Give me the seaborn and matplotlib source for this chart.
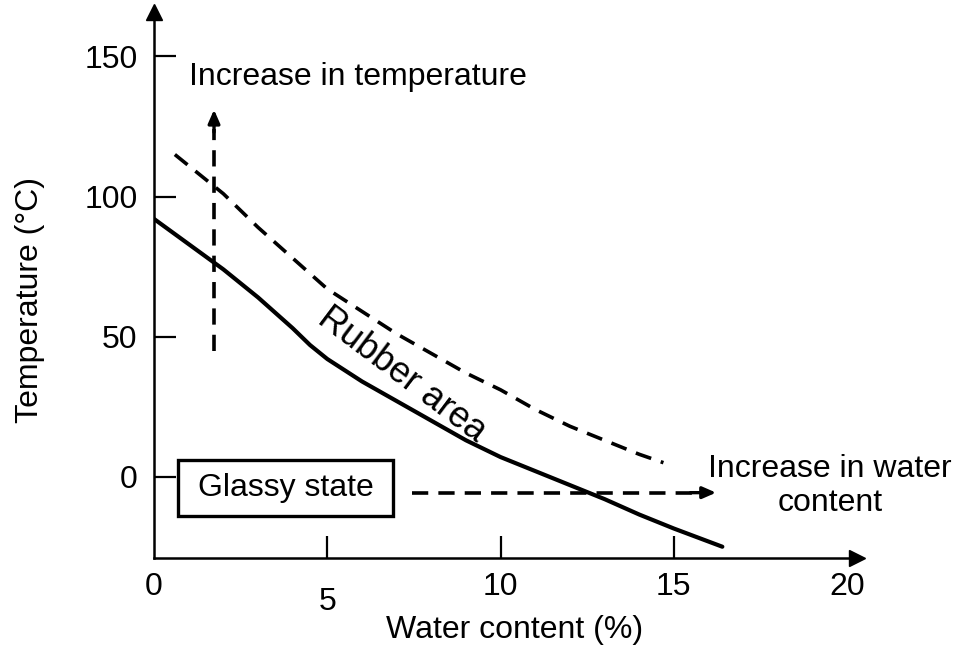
import matplotlib
matplotlib.use("Agg")
import matplotlib.pyplot as plt
import seaborn as sns
import pandas as pd
from matplotlib.patches import Rectangle
from matplotlib.transforms import ScaledTranslation

# glass transition line (solid) and upper boundary of rubber area (dashed)
water_solid = [0, 1, 2, 3, 4, 4.5, 5, 5.5, 6, 7, 8, 9, 10, 11, 12, 13, 14, 15, 16.4]
temp_solid = [92, 83, 74, 64, 53, 47, 42, 38, 34, 27, 20, 13, 7, 2, -3, -8, -13.5, -18.5, -25]

water_dash = [0.6, 2, 3, 4, 5, 6, 7, 8, 9, 10, 11, 12, 13, 14, 14.7]
temp_dash = [115, 101, 89, 78, 67, 59, 51, 44, 37, 31, 24, 18, 13, 8, 5]

x_ticks = [0, 5, 10, 15, 20]
y_ticks = [0, 50, 100, 150]

sns.set_style("white")
plt.rcParams["font.family"] = ["Liberation Sans", "DejaVu Sans"]
plt.rcParams["text.color"] = "black"
plt.rcParams["axes.labelcolor"] = "black"

FS = 23
DASH = (0, (4.5, 2.8))

fig = plt.figure(figsize=(9.57, 6.48), dpi=100)
ax = fig.add_axes([0.161, 0.139, 0.735, 0.843])

solid = pd.DataFrame({"w": water_solid, "t": temp_solid})
dash = pd.DataFrame({"w": water_dash, "t": temp_dash})
sns.lineplot(data=solid, x="w", y="t", color="black", linewidth=3, ax=ax, sort=False)
sns.lineplot(data=dash, x="w", y="t", color="black", linewidth=2.6, ax=ax, sort=False,
             linestyle=DASH)

ax.set_xlim(0, 20.3)
ax.set_ylim(-29, 166)

# axes with arrowheads
for s in ["top", "right"]:
    ax.spines[s].set_visible(False)
for s in ["left", "bottom"]:
    ax.spines[s].set_linewidth(1.8)
    ax.spines[s].set_color("black")
ax.plot(1, 0, ">k", markersize=11, transform=ax.transAxes, clip_on=False)
ax.plot(0, 1, "^k", markersize=11, transform=ax.transAxes, clip_on=False)

ax.set_xticks(x_ticks)
ax.set_xticklabels([str(v) for v in x_ticks])
ax.set_yticks(y_ticks)
ax.set_yticklabels([str(v) for v in y_ticks])
ax.tick_params(axis="both", direction="in", length=16, width=1.6, colors="black",
               labelsize=FS, bottom=True, left=True)
ax.tick_params(axis="x", pad=10)
ax.tick_params(axis="y", pad=12)
ticks = ax.xaxis.get_major_ticks()
ticks[-1].tick1line.set_visible(False)
ticks[0].tick1line.set_visible(False)
lbl5 = ax.get_xticklabels()[1]
lbl5.set_transform(lbl5.get_transform() + ScaledTranslation(0, -15 / 100, fig.dpi_scale_trans))

ax.set_xlabel("Water content (%)", fontsize=FS)
ax.set_ylabel("Temperature (°C)", fontsize=FS)
ax.xaxis.label.set_va("center")
ax.yaxis.label.set_va("center")
ax.xaxis.set_label_coords(0.513, -0.132)
ax.yaxis.set_label_coords(-0.176, 0.4725)

# arrows
ax.plot([1.73, 1.73], [45, 124], color="black", linewidth=2.6, linestyle=DASH)
ax.annotate("", xy=(1.73, 132), xytext=(1.73, 122),
            arrowprops=dict(arrowstyle="-|>,head_length=0.8,head_width=0.35",
                            color="black", lw=2.4))
ax.plot([7.45, 15.6], [-5.7, -5.7], color="black", linewidth=2.6, linestyle=DASH)
ax.annotate("", xy=(16.3, -5.7), xytext=(15.4, -5.7),
            arrowprops=dict(arrowstyle="-|>,head_length=0.8,head_width=0.35",
                            color="black", lw=2.4))

ax.text(1.0, 142.5, "Increase in temperature", fontsize=FS, va="center", ha="left")
ax.text(19.5, -3.3, "Increase in water\ncontent", fontsize=FS, va="center", ha="center",
        linespacing=1.15)
ax.text(7.15, 36.5, "Rubber area", fontsize=26, rotation=-37, va="center", ha="center",
        rotation_mode="anchor")

ax.add_patch(Rectangle((0.7, -14), 6.2, 20, facecolor="white", edgecolor="black",
                       linewidth=2.4, zorder=3))
ax.text(3.8, -4, "Glassy state", fontsize=FS, va="center", ha="center", zorder=4)

fig.savefig("out.png", dpi=100)
